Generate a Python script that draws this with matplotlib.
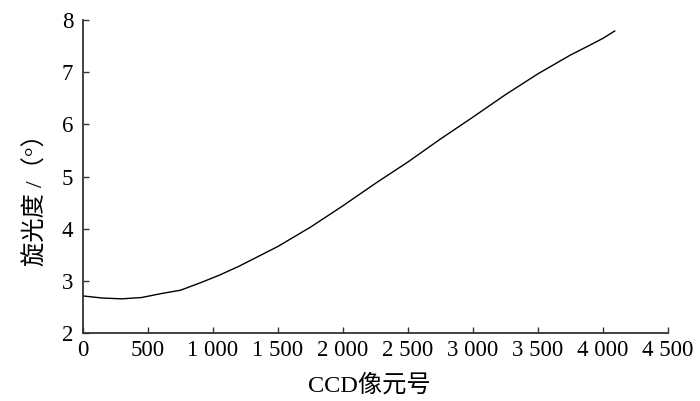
import matplotlib
matplotlib.use("Agg")
import matplotlib.pyplot as plt
from matplotlib.ticker import FuncFormatter

# pixel index of the CCD and the optical rotation read at it
pixel = [0, 150, 300, 450, 600, 750, 900, 1050, 1200, 1350, 1500,
         1750, 2000, 2250, 2500, 2750, 3000, 3250, 3500, 3750, 3900,
         4000, 4090]
rotation = [2.71, 2.67, 2.655, 2.68, 2.755, 2.82, 2.96, 3.11, 3.28, 3.47, 3.66,
            4.03, 4.44, 4.87, 5.28, 5.72, 6.14, 6.57, 6.97, 7.33, 7.52,
            7.65, 7.79]

x_ticks = [0, 500, 1000, 1500, 2000, 2500, 3000, 3500, 4000, 4500]
y_ticks = [2, 3, 4, 5, 6, 7, 8]

plt.rcParams["font.family"] = ["Liberation Serif", "Noto Sans CJK SC", "DejaVu Sans"]


def thousands(v, pos):
    return f"{int(v):,}".replace(",", " ")


fig = plt.figure(figsize=(7, 4.01), dpi=100)
ax = fig.add_axes([0.1186, 0.1696, 0.8357, 0.7804])

ax.plot(pixel, rotation, color="black", linewidth=1.0)

ax.set_xlim(0, 4500)
ax.set_ylim(2, 8)
ax.set_xticks(x_ticks)
ax.set_yticks(y_ticks)
ax.xaxis.set_major_formatter(FuncFormatter(thousands))

for side in ["top", "right"]:
    ax.spines[side].set_visible(False)
for side in ["left", "bottom"]:
    ax.spines[side].set_linewidth(1.3)
    ax.spines[side].set_color("#333333")

ax.tick_params(direction="in", length=4, width=1.0, colors="#333333",
               labelcolor="black", labelsize=16.5, pad=5)
ax.tick_params(axis="y", pad=7)

ax.set_xlabel("CCD像元号", fontsize=17.5, va="center")
ax.xaxis.set_label_coords(0.49, -0.166)
ax.set_ylabel("旋光度 /（°）", fontsize=17.5, va="center")
ax.yaxis.set_label_coords(-0.08, 0.445)

fig.savefig("out.png", dpi=100)
